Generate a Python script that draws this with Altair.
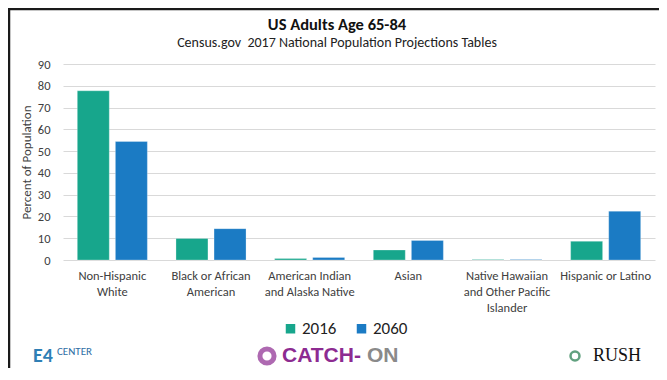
import altair as alt
import pandas as pd

# ---- data ----
label_lines = [
    ["Non-Hispanic", "White"],
    ["Black or African", "American"],
    ["American Indian", "and Alaska Native"],
    ["Asian"],
    ["Native Hawaiian", "and Other Pacific", "Islander"],
    ["Hispanic or Latino"],
]
categories = ["|".join(l) for l in label_lines]
years = ["2016", "2060"]
values_2016 = [77.7, 9.9, 0.7, 4.6, 0.2, 8.6]
values_2060 = [54.4, 14.4, 1.2, 9.0, 0.2, 22.4]
colors = ["#17a68c", "#1b7bc4"]

title_text = "US Adults Age 65-84"
subtitle_text = "Census.gov\u00a0 2017 National Population Projections Tables"

FONT = "Carlito, Lato, sans-serif"

rows = []
for c, a, b in zip(categories, values_2016, values_2060):
    rows.append({"category": c, "year": years[0], "value": a})
    rows.append({"category": c, "year": years[1], "value": b})
df = pd.DataFrame(rows)
one = pd.DataFrame({"k": [0]})

bars = alt.Chart(df).mark_bar(stroke="#ffffff", strokeOpacity=0.35, strokeWidth=0.8).encode(
    x=alt.X(
        "category:N",
        sort=categories,
        scale=alt.Scale(paddingInner=0.29, paddingOuter=0.145),
        axis=alt.Axis(
            title=None,
            labelExpr="split(datum.value, '|')",
            labelAngle=0,
            labelFontSize=12.5,
            labelColor="#404040",
            labelLineHeight=16,
            labelPadding=9,
            labelBaseline="top",
            domain=False,
            ticks=False,
            grid=False,
            labelFont=FONT,
        ),
    ),
    xOffset=alt.XOffset("year:N", sort=years, scale=alt.Scale(paddingInner=0.16)),
    y=alt.Y(
        "value:Q",
        scale=alt.Scale(domain=[0, 90]),
        axis=alt.Axis(
            values=list(range(0, 91, 10)),
            title="Percent of Population",
            titleFontSize=13,
            titleFontWeight="normal",
            titleColor="#404040",
            titleFont=FONT,
            titlePadding=4,
            labelFontSize=12.5,
            labelColor="#404040",
            labelFont=FONT,
            labelPadding=13,
            domain=False,
            ticks=False,
            grid=True,
            gridColor="#d9d9d9",
            gridWidth=1,
        ),
    ),
    color=alt.Color(
        "year:N",
        sort=years,
        scale=alt.Scale(domain=years, range=colors),
        legend=alt.Legend(
            title=None,
            orient="none",
            direction="horizontal",
            legendX=219,
            legendY=256,
            symbolType="square",
            symbolSize=90,
            symbolStrokeWidth=0,
            labelFontSize=17,
            labelFont=FONT,
            labelColor="#222222",
            labelOffset=3,
            columnPadding=16,
        ),
    ),
)

# frame around the slide chart
frame_left = alt.Chart(one).mark_rule(color="#1a1a1a", strokeWidth=2.5).encode(
    x=alt.value(-54), y=alt.value(-55), y2=alt.value(320)
)
frame_top = alt.Chart(one).mark_rule(color="#1a1a1a", strokeWidth=2.5).encode(
    x=alt.value(-55), x2=alt.value(620), y=alt.value(-55)
)

# titles
title = alt.Chart(one).mark_text(text=title_text, font=FONT, fontSize=16.5, fontWeight="bold",
                                 color="#111111", align="center", baseline="middle").encode(
    x=alt.value(274), y=alt.value(-39))
subtitle = alt.Chart(one).mark_text(text=subtitle_text, font=FONT, fontSize=14,
                                    color="#222222", align="center", baseline="middle").encode(
    x=alt.value(274), y=alt.value(-21))

# logos in the footer, as text
FY = 292
LOGO_FONT = "Liberation Sans"
e4 = alt.Chart(one).mark_text(text="E4", font=FONT, fontSize=20, fontWeight="bold",
                              color="#2f7fb5", align="left", baseline="middle").encode(
    x=alt.value(-30), y=alt.value(FY))
center = alt.Chart(one).mark_text(text="CENTER", font=FONT, fontSize=11,
                                  color="#2f6fa5", align="left", baseline="middle").encode(
    x=alt.value(-6), y=alt.value(FY - 4))
catch_icon = alt.Chart(one).mark_point(shape="circle", size=200, strokeWidth=5,
                                       color="#8d2b91", filled=False).encode(
    x=alt.value(204), y=alt.value(FY))
catch = alt.Chart(one).mark_text(text="CATCH-", font=LOGO_FONT, fontSize=21, fontWeight="bold",
                                 color="#8d2b91", align="left", baseline="middle").encode(
    x=alt.value(219), y=alt.value(FY))
on = alt.Chart(one).mark_text(text="ON", font=LOGO_FONT, fontSize=21, fontWeight="bold",
                              color="#8a8a8a", align="left", baseline="middle").encode(
    x=alt.value(304), y=alt.value(FY))
rush_icon = alt.Chart(one).mark_point(shape="circle", size=80, strokeWidth=2.5,
                                      color="#1f7a4a", filled=False).encode(
    x=alt.value(512), y=alt.value(FY))
rush = alt.Chart(one).mark_text(text="RUSH", font="Liberation Serif", fontSize=18,
                                color="#111111", align="left", baseline="middle").encode(
    x=alt.value(530), y=alt.value(FY))

chart = alt.layer(
    bars, frame_left, frame_top, title, subtitle, e4, center, catch_icon, catch, on, rush_icon, rush
).properties(
    width=592,
    height=196,
    padding={"left": 55, "top": 56, "right": 4, "bottom": 108},
    autosize=alt.AutoSizeParams(type="none"),
    background="white",
).configure_view(stroke=None)

chart.save("out.html", embed_options={"renderer": "svg", "actions": False})
